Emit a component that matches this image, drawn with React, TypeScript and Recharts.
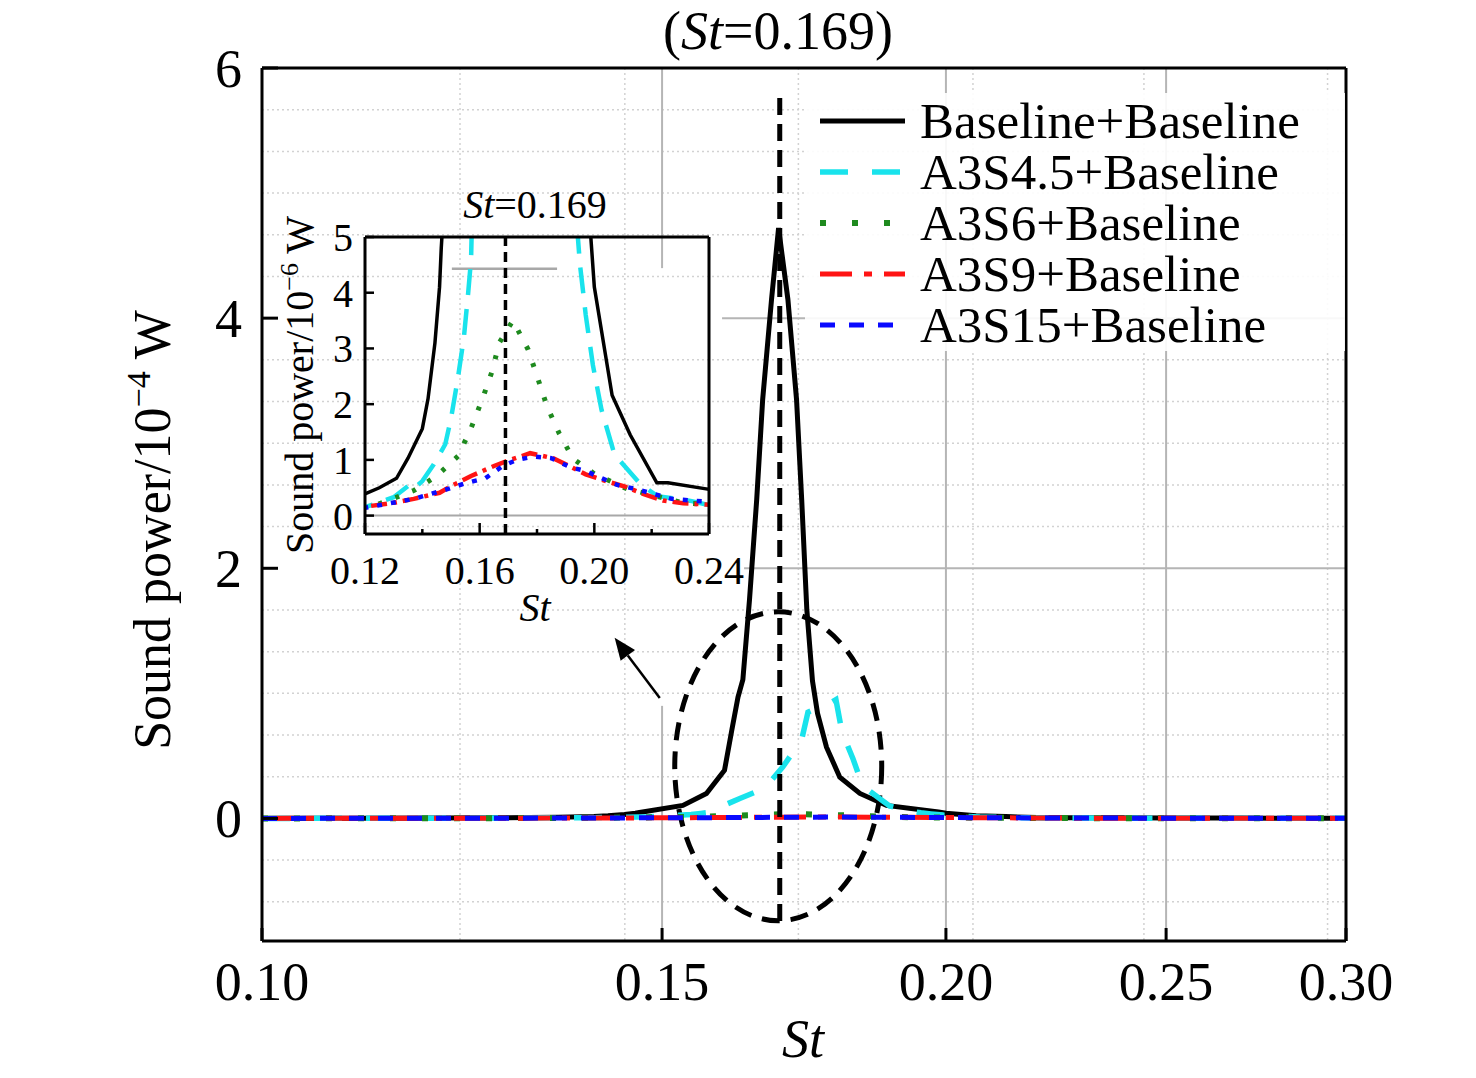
import React from 'react';
import {
  LineChart,
  Line,
  XAxis,
  YAxis,
  CartesianGrid,
  ReferenceLine,
  ReferenceArea,
  Legend,
} from 'recharts';

const FONT = '"Liberation Serif", "Times New Roman", serif';

// Sound power, in 10^-6 W (main panel shows it in 10^-4 W)
const baselineSt = [0.1, 0.11, 0.12, 0.125, 0.131, 0.135, 0.14, 0.142, 0.1444, 0.146, 0.1466, 0.1532, 0.1569, 0.1598, 0.161, 0.162, 0.1628, 0.1639, 0.1651, 0.1661, 0.1676, 0.1688, 0.1704, 0.1719, 0.1728, 0.1737, 0.1747, 0.1756, 0.1772, 0.1796, 0.1833, 0.1883, 0.1985, 0.2, 0.2062, 0.2125, 0.2218, 0.2257, 0.239, 0.25, 0.27, 0.3];
const baselinePower = [0.05, 0.14, 0.39, 0.5, 0.67, 1.03, 1.56, 2.1, 3.1, 4.1, 4.8, 10.4, 20, 38.5, 71, 97, 111, 175, 255, 335, 415, 472, 415, 335, 255, 167, 110, 84, 57, 33, 20, 10.4, 5.2, 4.1, 2.16, 1.45, 0.59, 0.59, 0.48, 0.4, 0.25, 0.15];

const a3s45St = [0.1, 0.11, 0.12, 0.13, 0.1355, 0.137, 0.14, 0.144, 0.148, 0.15, 0.1525, 0.1545, 0.156, 0.157, 0.1595, 0.1623, 0.1664, 0.1695, 0.1728, 0.1739, 0.1781, 0.1789, 0.18, 0.182, 0.1838, 0.1889, 0.1935, 0.195, 0.197, 0.1995, 0.2025, 0.207, 0.216, 0.222, 0.234, 0.239, 0.25, 0.27, 0.3];
const a3s45Power = [0.03, 0.07, 0.15, 0.33, 0.55, 0.48, 0.62, 0.92, 1.28, 1.74, 2.5, 3.2, 4.0, 4.6, 10, 16, 24, 41, 63, 85, 93, 95, 69, 48, 26, 10, 5.5, 4.5, 3.6, 2.7, 1.9, 1.1, 0.57, 0.35, 0.26, 0.2, 0.15, 0.1, 0.05];

const a3s6St = [0.1, 0.11, 0.12, 0.128, 0.137, 0.145, 0.1525, 0.157, 0.161, 0.1644, 0.1668, 0.1716, 0.1769, 0.1803, 0.1835, 0.1877, 0.1926, 0.2, 0.2114, 0.231, 0.24, 0.25, 0.27, 0.3];
const a3s6Power = [0.03, 0.06, 0.12, 0.27, 0.45, 0.71, 1.07, 1.57, 2.1, 2.6, 3.1, 3.5, 2.98, 2.46, 1.96, 1.48, 1.02, 0.75, 0.48, 0.23, 0.2, 0.15, 0.08, 0.04];

const a3s9St = [0.1, 0.11, 0.12, 0.13, 0.137, 0.146, 0.15, 0.157, 0.165, 0.169, 0.1776, 0.1856, 0.19, 0.197, 0.204, 0.2107, 0.217, 0.224, 0.231, 0.239, 0.25, 0.27, 0.3];
const a3s9Power = [0.03, 0.08, 0.16, 0.23, 0.3, 0.41, 0.53, 0.71, 0.89, 0.97, 1.12, 1.03, 0.92, 0.74, 0.62, 0.52, 0.39, 0.27, 0.22, 0.2, 0.15, 0.08, 0.04];

const a3s15St = [0.1, 0.11, 0.12, 0.137, 0.149, 0.155, 0.162, 0.168, 0.173, 0.179, 0.185, 0.1915, 0.197, 0.208, 0.215, 0.227, 0.234, 0.24, 0.25, 0.27, 0.3];
const a3s15Power = [0.03, 0.07, 0.14, 0.3, 0.48, 0.58, 0.67, 0.89, 1.0, 1.06, 1.03, 0.87, 0.8, 0.55, 0.47, 0.3, 0.27, 0.25, 0.18, 0.1, 0.05];

// axes
const mainXTicks = [0.1, 0.15, 0.2, 0.25, 0.3];
const mainYTicks = [0, 2, 4, 6];
const insetXTicks = [0.12, 0.14, 0.16, 0.18, 0.2, 0.22, 0.24];
const insetXLabelled = [0.12, 0.16, 0.2, 0.24];
const insetYTicks = [0, 1, 2, 3, 4, 5];
const peakSt = 0.169;

// minor grid: 9 steps per 0.05 in St, thirds in power
const minorXTicks: number[] = [];
for (let k = 1; k < 36; k++) if (k % 9 !== 0) minorXTicks.push(0.1 + (k * 0.05) / 9);
const minorYTicks: number[] = [];
for (let k = -2; k <= 18; k++) if (k % 6 !== 0) minorYTicks.push(k / 3);

const series = [
  { name: 'Baseline+Baseline', st: baselineSt, p: baselinePower, color: '#000000', dash: undefined, insetDash: undefined, w: 5, iw: 3.5 },
  { name: 'A3S4.5+Baseline', st: a3s45St, p: a3s45Power, color: '#19e3ec', dash: '28 24', insetDash: '26 14', w: 5.5, iw: 4.5 },
  { name: 'A3S6+Baseline', st: a3s6St, p: a3s6Power, color: '#1e8a1e', dash: '6 26', insetDash: '4 14', w: 6, iw: 5 },
  { name: 'A3S9+Baseline', st: a3s9St, p: a3s9Power, color: '#ff1414', dash: '32 12 8 12', insetDash: '16 6 4 6', w: 5, iw: 4.5 },
  { name: 'A3S15+Baseline', st: a3s15St, p: a3s15Power, color: '#0a0aff', dash: '15 14', insetDash: '5 9', w: 5, iw: 4.5 },
];

const toPoints = (st: number[], p: number[], k: number) => st.map((s, i) => ({ st: s, p: p[i] * k }));

const MainXTick = (props: any) => {
  const { x, y, payload } = props;
  return (
    <g>
      <line x1={x} y1={y} x2={x} y2={y - 13} stroke="#000" strokeWidth={3} />
      <text x={x} y={y + 59} textAnchor="middle" fontFamily={FONT} fontSize={54} fill="#000">
        {payload.value.toFixed(2)}
      </text>
    </g>
  );
};

const MainYTick = (props: any) => {
  const { x, y, payload } = props;
  return (
    <g>
      <line x1={x} y1={y} x2={x + 16} y2={y} stroke="#000" strokeWidth={3} />
      <text x={x - 20} y={y + 19} textAnchor="end" fontFamily={FONT} fontSize={54} fill="#000">
        {payload.value}
      </text>
    </g>
  );
};

const InsetXTick = (props: any) => {
  const { x, y, payload } = props;
  const major = insetXLabelled.includes(payload.value);
  return (
    <g>
      <line x1={x} y1={y} x2={x} y2={y - (major ? 11 : 5)} stroke="#000" strokeWidth={2.5} />
      {major && (
        <text x={x} y={y + 50} textAnchor="middle" fontFamily={FONT} fontSize={40} fill="#000">
          {payload.value.toFixed(2)}
        </text>
      )}
    </g>
  );
};

const InsetYTick = (props: any) => {
  const { x, y, payload } = props;
  return (
    <g>
      <line x1={x} y1={y} x2={x + 9} y2={y} stroke="#000" strokeWidth={2.5} />
      <text x={x - 12} y={y + 14} textAnchor="end" fontFamily={FONT} fontSize={40} fill="#000">
        {payload.value}
      </text>
    </g>
  );
};

const Arrow = (p: any) => {
  const { x1, y1, x2, y2 } = p;
  const len = Math.hypot(x2 - x1, y2 - y1) || 1;
  const ux = (x2 - x1) / len;
  const uy = (y2 - y1) / len;
  const bx = x2 - ux * 22;
  const by = y2 - uy * 22;
  return (
    <g>
      <line x1={x1} y1={y1} x2={bx} y2={by} stroke="#000" strokeWidth={2.5} />
      <polygon points={`${x2},${y2} ${bx - uy * 9},${by + ux * 9} ${bx + uy * 9},${by - ux * 9}`} fill="#000" />
    </g>
  );
};

const Ellipse = (p: any) => (
  <ellipse
    cx={p.x + p.width / 2}
    cy={p.y + p.height / 2}
    rx={p.width / 2}
    ry={p.height / 2}
    fill="none"
    stroke="#000"
    strokeWidth={5}
    strokeDasharray="18 11"
  />
);

const LegendBox = () => (
  <div style={{ background: 'rgba(255,255,255,0.9)', paddingTop: 3, paddingLeft: 15 }}>
    {series.map((s) => (
      <div key={s.name} style={{ display: 'flex', alignItems: 'center', height: 51 }}>
        <svg width={100} height={51}>
          <line x1={0} y1={25} x2={85} y2={25} stroke={s.color} strokeWidth={s.w} strokeDasharray={s.dash} />
        </svg>
        <span style={{ fontFamily: FONT, fontSize: 51, lineHeight: '51px', color: '#000', whiteSpace: 'nowrap' }}>
          {s.name}
        </span>
      </div>
    ))}
  </div>
);

const gridGray = '#b5b5b5';

const MainChart = () => (
  <LineChart width={1476} height={1078} margin={{ top: 67, right: 129, bottom: 136, left: 261 }}>
    <XAxis xAxisId="minor" type="number" dataKey="st" scale="log" domain={[0.1, 0.3]} allowDataOverflow ticks={minorXTicks} hide />
    <YAxis yAxisId="yminor" type="number" domain={[-0.98, 6]} allowDataOverflow ticks={minorYTicks} hide />
    <CartesianGrid xAxisId="minor" yAxisId="yminor" stroke="#d2d2d2" strokeWidth={1.5} strokeDasharray="2 3" />

    <XAxis
      type="number"
      dataKey="st"
      scale="log"
      domain={[0.1, 0.3]}
      allowDataOverflow
      ticks={mainXTicks}
      interval={0}
      height={1}
      tickSize={0}
      tickMargin={0}
      tickLine={false}
      axisLine={{ stroke: '#000', strokeWidth: 3 }}
      tick={(p: any) => <MainXTick {...p} />}
    />
    <YAxis
      type="number"
      domain={[-0.98, 6]}
      allowDataOverflow
      ticks={mainYTicks}
      interval={0}
      width={1}
      tickSize={0}
      tickMargin={0}
      tickLine={false}
      axisLine={{ stroke: '#000', strokeWidth: 3 }}
      tick={(p: any) => <MainYTick {...p} />}
    />
    <XAxis xAxisId="top" orientation="top" type="number" scale="log" domain={[0.1, 0.3]} allowDataOverflow tick={false} tickLine={false} height={1} axisLine={{ stroke: '#000', strokeWidth: 3 }} />
    <YAxis yAxisId="right" orientation="right" type="number" domain={[-0.98, 6]} allowDataOverflow tick={false} tickLine={false} width={1} axisLine={{ stroke: '#000', strokeWidth: 3 }} />

    {/* major grid, left open where the inset sits */}
    <ReferenceLine segment={[{ x: 0.15, y: -0.98 }, { x: 0.15, y: 0.9 }]} stroke={gridGray} strokeWidth={2} />
    <ReferenceLine segment={[{ x: 0.15, y: 4.4 }, { x: 0.15, y: 6 }]} stroke={gridGray} strokeWidth={2} />
    <ReferenceLine segment={[{ x: 0.2, y: -0.98 }, { x: 0.2, y: 6 }]} stroke={gridGray} strokeWidth={2} />
    <ReferenceLine segment={[{ x: 0.25, y: -0.98 }, { x: 0.25, y: 6 }]} stroke={gridGray} strokeWidth={2} />
    <ReferenceLine segment={[{ x: 0.163, y: 2 }, { x: 0.3, y: 2 }]} stroke={gridGray} strokeWidth={2} />
    <ReferenceLine segment={[{ x: 0.1594, y: 4 }, { x: 0.3, y: 4 }]} stroke={gridGray} strokeWidth={2} />

    {series.map((s) => (
      <Line
        key={s.name}
        name={s.name}
        data={toPoints(s.st, s.p, 0.01)}
        dataKey="p"
        type="linear"
        stroke={s.color}
        strokeWidth={s.w}
        strokeDasharray={s.dash}
        dot={false}
        activeDot={false}
        isAnimationActive={false}
      />
    ))}

    <ReferenceLine segment={[{ x: peakSt, y: -0.82 }, { x: peakSt, y: 5.8 }]} stroke="#000" strokeWidth={5} strokeDasharray="17 9" />
    <ReferenceArea x1={0.15194} x2={0.1874} y1={-0.818} y2={1.652} shape={(p: any) => <Ellipse {...p} />} />
    <ReferenceLine segment={[{ x: 0.14965, y: 0.9625 }, { x: 0.14296, y: 1.444 }]} shape={(p: any) => <Arrow {...p} />} />

    <Legend
      layout="vertical"
      align="center"
      verticalAlign="middle"
      content={() => <LegendBox />}
      wrapperStyle={{ left: 805, top: 93, width: 540, height: 258 }}
    />
  </LineChart>
);

const InsetChart = () => (
  <LineChart width={1476} height={1078} margin={{ top: 236, right: 766, bottom: 543, left: 364 }}>
    <XAxis
      type="number"
      dataKey="st"
      domain={[0.12, 0.24]}
      allowDataOverflow
      ticks={insetXTicks}
      interval={0}
      height={1}
      tickSize={0}
      tickMargin={0}
      tickLine={false}
      axisLine={{ stroke: '#000', strokeWidth: 3 }}
      tick={(p: any) => <InsetXTick {...p} />}
    />
    <YAxis
      type="number"
      domain={[-0.33, 5]}
      allowDataOverflow
      ticks={insetYTicks}
      interval={0}
      width={1}
      tickSize={0}
      tickMargin={0}
      tickLine={false}
      axisLine={{ stroke: '#000', strokeWidth: 3 }}
      tick={(p: any) => <InsetYTick {...p} />}
    />
    <XAxis xAxisId="top" orientation="top" type="number" domain={[0.12, 0.24]} allowDataOverflow tick={false} tickLine={false} height={1} axisLine={{ stroke: '#000', strokeWidth: 3 }} />
    <YAxis yAxisId="right" orientation="right" type="number" domain={[-0.33, 5]} allowDataOverflow tick={false} tickLine={false} width={1} axisLine={{ stroke: '#000', strokeWidth: 3 }} />

    <ReferenceLine y={0} stroke="#a8a8a8" strokeWidth={2} />
    <ReferenceLine segment={[{ x: 0.1503, y: 4.43 }, { x: 0.187, y: 4.43 }]} stroke="#a8a8a8" strokeWidth={2.5} />

    {series.map((s) => (
      <Line
        key={s.name}
        name={s.name}
        data={toPoints(s.st, s.p, 1)}
        dataKey="p"
        type="linear"
        stroke={s.color}
        strokeWidth={s.iw}
        strokeDasharray={s.insetDash}
        dot={false}
        activeDot={false}
        isAnimationActive={false}
      />
    ))}

    <ReferenceLine x={peakSt} stroke="#000" strokeWidth={3.5} strokeDasharray="10 6" />
  </LineChart>
);

const Labels = () => (
  <svg width={1476} height={1078} style={{ position: 'absolute', left: 0, top: 0, pointerEvents: 'none' }}>
    <text x={778} y={49} textAnchor="middle" fontFamily={FONT} fontSize={54} fill="#000">
      (<tspan fontStyle="italic">St</tspan>=0.169)
    </text>
    <text transform="translate(170,530) rotate(-90)" textAnchor="middle" fontFamily={FONT} fontSize={52} fill="#000">
      Sound power/10<tspan dy={-20} fontSize={34}>−4</tspan>
      <tspan dy={20}> W</tspan>
    </text>
    <text x={803} y={1057} textAnchor="middle" fontFamily={FONT} fontStyle="italic" fontSize={54} fill="#000">
      St
    </text>

    <text x={535} y={218} textAnchor="middle" fontFamily={FONT} fontSize={40} fill="#000">
      <tspan fontStyle="italic">St</tspan>=0.169
    </text>
    <text transform="translate(313,385) rotate(-90)" textAnchor="middle" fontFamily={FONT} fontSize={40} fill="#000">
      Sound power/10<tspan dy={-15} fontSize={26}>−6</tspan>
      <tspan dy={15}> W</tspan>
    </text>
    <text x={535} y={621} textAnchor="middle" fontFamily={FONT} fontStyle="italic" fontSize={40} fill="#000">
      St
    </text>
  </svg>
);

const App: React.FC = () => (
  <div style={{ position: 'absolute', left: 0, top: 0, width: 1476, height: 1078, background: '#fff' }}>
    <div style={{ position: 'absolute', left: 0, top: 0 }}>
      <MainChart />
    </div>
    <div style={{ position: 'absolute', left: 0, top: 0 }}>
      <InsetChart />
    </div>
    <Labels />
  </div>
);

export default App;
